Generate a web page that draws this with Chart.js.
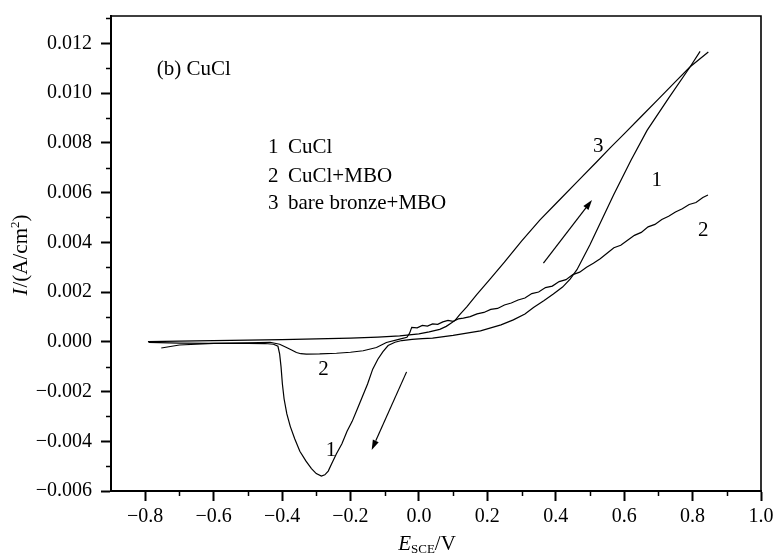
<!DOCTYPE html>
<html><head><meta charset="utf-8">
<script src="https://cdn.jsdelivr.net/npm/chart.js@4/dist/chart.umd.min.js"></script>
<style>html,body{margin:0;padding:0;background:#fff}canvas{display:block}</style>
</head><body>
<canvas id="c" width="776" height="558"></canvas>
<script>
// ---- axis ticks ----
const xTicks = [-0.8, -0.6, -0.4, -0.2, 0.0, 0.2, 0.4, 0.6, 0.8, 1.0];
const yTicks = [-0.006, -0.004, -0.002, 0.000, 0.002, 0.004, 0.006, 0.008, 0.010, 0.012];
const xMinorTicks = [-0.7, -0.5, -0.3, -0.1, 0.1, 0.3, 0.5, 0.7, 0.9];
const yMinorTicks = [-0.005, -0.003, -0.001, 0.001, 0.003, 0.005, 0.007, 0.009, 0.011, 0.013];

// ---- series (E / V vs SCE, I / A cm^-2) ----
const seriesNames = ['CuCl', 'CuCl+MBO', 'bare bronze+MBO'];
const seriesNumbers = ['1', '2', '3'];

// 1  CuCl
const cuclE = [-0.79, -0.70, -0.60, -0.50, -0.45, -0.425, -0.412, -0.407, -0.403, -0.399, -0.394, -0.386, -0.376, -0.363, -0.348, -0.330, -0.314, -0.300, -0.285, -0.275, -0.265, -0.255, -0.241, -0.225, -0.210, -0.195, -0.180, -0.165, -0.150, -0.135, -0.120, -0.105, -0.090, -0.070, -0.050, -0.020, 0.010, 0.040, 0.100, 0.180, 0.240, 0.276, 0.310, 0.335, 0.365, 0.393, 0.420, 0.442, 0.462, 0.500, 0.569, 0.620, 0.667, 0.730, 0.793, 0.822];
const cuclI = [-0.00002, -0.00005, -0.00006, -0.00006, -0.00007, -0.00010, -0.00018, -0.00050, -0.00100, -0.00170, -0.00230, -0.00290, -0.00340, -0.00390, -0.00440, -0.00480, -0.00510, -0.00530, -0.00540, -0.00535, -0.00520, -0.00490, -0.00450, -0.00410, -0.00360, -0.00320, -0.00270, -0.00220, -0.00170, -0.00110, -0.00070, -0.00040, -0.00015, -0.00002, 0.00005, 0.00010, 0.00013, 0.00015, 0.00026, 0.00044, 0.00068, 0.00088, 0.00112, 0.00138, 0.00165, 0.00192, 0.00220, 0.00252, 0.00290, 0.00390, 0.00590, 0.00730, 0.00850, 0.00980, 0.01106, 0.01168];

// 2  CuCl+MBO
const cuclMboE = [-0.753, -0.70, -0.60, -0.50, -0.435, -0.407, -0.387, -0.372, -0.358, -0.345, -0.329, -0.290, -0.241, -0.200, -0.163, -0.124, -0.095, -0.056, -0.035, -0.027, -0.021, -0.005, 0.010, 0.025, 0.040, 0.055, 0.070, 0.085, 0.100, 0.115, 0.130, 0.150, 0.170, 0.190, 0.210, 0.230, 0.250, 0.270, 0.290, 0.310, 0.330, 0.350, 0.370, 0.390, 0.410, 0.430, 0.450, 0.470, 0.490, 0.510, 0.530, 0.550, 0.570, 0.590, 0.610, 0.630, 0.650, 0.670, 0.690, 0.710, 0.730, 0.750, 0.770, 0.790, 0.810, 0.830, 0.845];
const cuclMboI = [-0.00025, -0.00013, -0.00006, -0.00004, -0.00002, -0.00010, -0.00023, -0.00033, -0.00043, -0.00048, -0.00050, -0.00049, -0.00046, -0.00042, -0.00036, -0.00023, -0.00003, 0.00011, 0.00018, 0.00035, 0.00058, 0.00056, 0.00066, 0.00063, 0.00072, 0.00070, 0.00080, 0.00086, 0.00082, 0.00092, 0.00095, 0.00101, 0.00112, 0.00118, 0.00130, 0.00134, 0.00148, 0.00156, 0.00168, 0.00176, 0.00194, 0.00200, 0.00218, 0.00224, 0.00242, 0.00250, 0.00270, 0.00280, 0.00300, 0.00316, 0.00334, 0.00356, 0.00378, 0.00388, 0.00408, 0.00428, 0.00440, 0.00462, 0.00472, 0.00492, 0.00505, 0.00522, 0.00535, 0.00552, 0.00560, 0.00580, 0.00590];

// 3  bare bronze+MBO
const bareMboE = [-0.792, -0.70, -0.60, -0.50, -0.40, -0.30, -0.20, -0.12, -0.056, 0.000, 0.030, 0.061, 0.080, 0.105, 0.120, 0.140, 0.169, 0.208, 0.250, 0.300, 0.354, 0.400, 0.471, 0.520, 0.559, 0.600, 0.650, 0.700, 0.750, 0.793, 0.846];
const bareMboI = [0.00001, 0.00003, 0.00005, 0.00007, 0.00009, 0.00012, 0.00015, 0.00019, 0.00024, 0.00032, 0.00040, 0.00050, 0.00062, 0.00085, 0.00110, 0.00140, 0.00190, 0.00252, 0.00320, 0.00405, 0.00490, 0.00555, 0.00655, 0.00724, 0.00780, 0.00836, 0.00906, 0.00976, 0.01046, 0.01106, 0.01165];

// ---- annotations (data coordinates) ----
const curveLabelText = ['3', '1', '2', '2', '1'];
const curveLabelE = [0.524, 0.695, 0.831, -0.279, -0.257];
const curveLabelI = [0.00784, 0.00650, 0.00449, -0.00113, -0.00439];
const legendE = -0.441;
const legendI = [0.00783, 0.00663, 0.00558];
const panelTitle = '(b) CuCl';
const panelTitleE = -0.766, panelTitleI = 0.01093;
const arrowFromE = [0.364, -0.036], arrowFromI = [0.00316, -0.00121];
const arrowToE = [0.506, -0.138], arrowToI = [0.00570, -0.00435];

const SERIF = '"Liberation Serif", "Times New Roman", serif';
Chart.defaults.font.family = SERIF;
Chart.defaults.color = '#000';

const toXY = (E, I) => E.map((e, i) => ({x: e, y: I[i]}));
const fmt = (v, d) => { const s = Math.abs(v).toFixed(d); return (v < -1e-12 ? '\u2212' : '') + s; };

const decor = {
  id: 'decor',
  afterDraw(chart) {
    const {ctx, chartArea: a, scales: {x, y}} = chart;
    ctx.save();
    ctx.strokeStyle = '#000'; ctx.fillStyle = '#000';
    // frame top & right
    ctx.lineWidth = 1.6;
    ctx.beginPath(); ctx.moveTo(a.left, a.top); ctx.lineTo(a.right, a.top); ctx.lineTo(a.right, a.bottom); ctx.stroke();
    // minor ticks
    ctx.lineWidth = 1.5;
    xMinorTicks.forEach(v => { const p = Math.round(x.getPixelForValue(v)) + 0.5; ctx.beginPath(); ctx.moveTo(p, a.bottom); ctx.lineTo(p, a.bottom + 5); ctx.stroke(); });
    yMinorTicks.forEach(v => { const p = Math.round(y.getPixelForValue(v)) + 0.5; ctx.beginPath(); ctx.moveTo(a.left, p); ctx.lineTo(a.left - 5, p); ctx.stroke(); });
    // arrows
    ctx.lineWidth = 1.2;
    for (let k = 0; k < arrowFromE.length; k++) {
      const x0 = x.getPixelForValue(arrowFromE[k]), y0 = y.getPixelForValue(arrowFromI[k]);
      const x1 = x.getPixelForValue(arrowToE[k]), y1 = y.getPixelForValue(arrowToI[k]);
      const ang = Math.atan2(y1 - y0, x1 - x0), L = 10, W = 3.2;
      const bx = x1 - L * Math.cos(ang), by = y1 - L * Math.sin(ang);
      ctx.beginPath(); ctx.moveTo(x0, y0); ctx.lineTo(bx, by); ctx.stroke();
      ctx.beginPath(); ctx.moveTo(x1, y1);
      ctx.lineTo(bx + W * Math.sin(ang), by - W * Math.cos(ang));
      ctx.lineTo(bx - W * Math.sin(ang), by + W * Math.cos(ang));
      ctx.closePath(); ctx.fill();
    }
    // texts
    ctx.font = '21px ' + SERIF; ctx.textBaseline = 'middle'; ctx.textAlign = 'center';
    curveLabelText.forEach((t, i) => ctx.fillText(t, x.getPixelForValue(curveLabelE[i]), y.getPixelForValue(curveLabelI[i])));
    ctx.textAlign = 'left';
    seriesNames.forEach((n, i) => {
      const px = x.getPixelForValue(legendE), py = y.getPixelForValue(legendI[i]);
      ctx.fillText(seriesNumbers[i], px, py);
      ctx.fillText(n, px + 20, py);
    });
    ctx.fillText(panelTitle, x.getPixelForValue(panelTitleE), y.getPixelForValue(panelTitleI));
    // x title: E_SCE/V
    ctx.textBaseline = 'alphabetic';
    const big = '21px ' + SERIF, itl = 'italic 21px ' + SERIF, small = '13px ' + SERIF;
    ctx.font = itl; const wE = ctx.measureText('E').width;
    ctx.font = small; const wS = ctx.measureText('SCE').width;
    ctx.font = big; const wV = ctx.measureText('/V').width;
    let sx = 427 - (wE + wS + wV) / 2; const by = 550;
    ctx.font = itl; ctx.fillText('E', sx, by); sx += wE;
    ctx.font = small; ctx.fillText('SCE', sx, by + 3); sx += wS;
    ctx.font = big; ctx.fillText('/V', sx, by);
    // y title: I/(A/cm^2)
    ctx.save();
    ctx.translate(27, 255); ctx.rotate(-Math.PI / 2);
    ctx.font = itl; const wI = ctx.measureText('I').width;
    ctx.font = big; const w1 = ctx.measureText('/(A/cm').width;
    ctx.font = small; const w2 = ctx.measureText('2').width;
    ctx.font = big; const w3 = ctx.measureText(')').width;
    let tx = -(wI + w1 + w2 + w3 + 1) / 2;
    ctx.font = itl; ctx.fillText('I', tx, 0); tx += wI + 1;
    ctx.font = big; ctx.fillText('/(A/cm', tx, 0); tx += w1;
    ctx.font = small; ctx.fillText('2', tx, -8); tx += w2;
    ctx.font = big; ctx.fillText(')', tx, 0);
    ctx.restore();
    ctx.restore();
  }
};

const lineDs = (label, E, I) => ({
  label, data: toXY(E, I), showLine: true, borderColor: '#000', borderWidth: 1.2,
  pointRadius: 0, pointHoverRadius: 0, fill: false, tension: 0
});

new Chart(document.getElementById('c'), {
  type: 'scatter',
  data: { datasets: [
    lineDs(seriesNames[0], cuclE, cuclI),
    lineDs(seriesNames[1], cuclMboE, cuclMboI),
    lineDs(seriesNames[2], bareMboE, bareMboI)
  ]},
  options: {
    responsive: false, animation: false, devicePixelRatio: 1,
    layout: { padding: { left: 0, right: 15, top: 16, bottom: 0 } },
    plugins: { legend: { display: false }, tooltip: { enabled: false }, title: { display: false } },
    scales: {
      x: {
        type: 'linear', min: -0.9, max: 1.0,
        afterBuildTicks: s => { s.ticks = xTicks.map(v => ({value: v})); },
        afterFit: s => { s.height = 67; s.paddingLeft = 0; s.paddingRight = 0; },
        ticks: { callback: v => fmt(v, 1), font: { size: 20, family: SERIF }, color: '#000', padding: 4, maxRotation: 0, autoSkip: false },
        grid: { drawOnChartArea: false, drawTicks: true, tickLength: 10, tickWidth: 2, tickColor: '#000' },
        border: { display: true, color: '#000', width: 2 }
      },
      y: {
        type: 'linear', min: -0.006, max: 0.0131,
        afterBuildTicks: s => { s.ticks = yTicks.map(v => ({value: v})); },
        afterFit: s => { s.width = 111; s.paddingTop = 0; s.paddingBottom = 0; },
        ticks: { callback: v => fmt(v, 3), font: { size: 20, family: SERIF }, color: '#000', padding: 9, autoSkip: false },
        grid: { drawOnChartArea: false, drawTicks: true, tickLength: 10, tickWidth: 2, tickColor: '#000' },
        border: { display: true, color: '#000', width: 2 }
      }
    }
  },
  plugins: [decor]
});
</script>
</body></html>
